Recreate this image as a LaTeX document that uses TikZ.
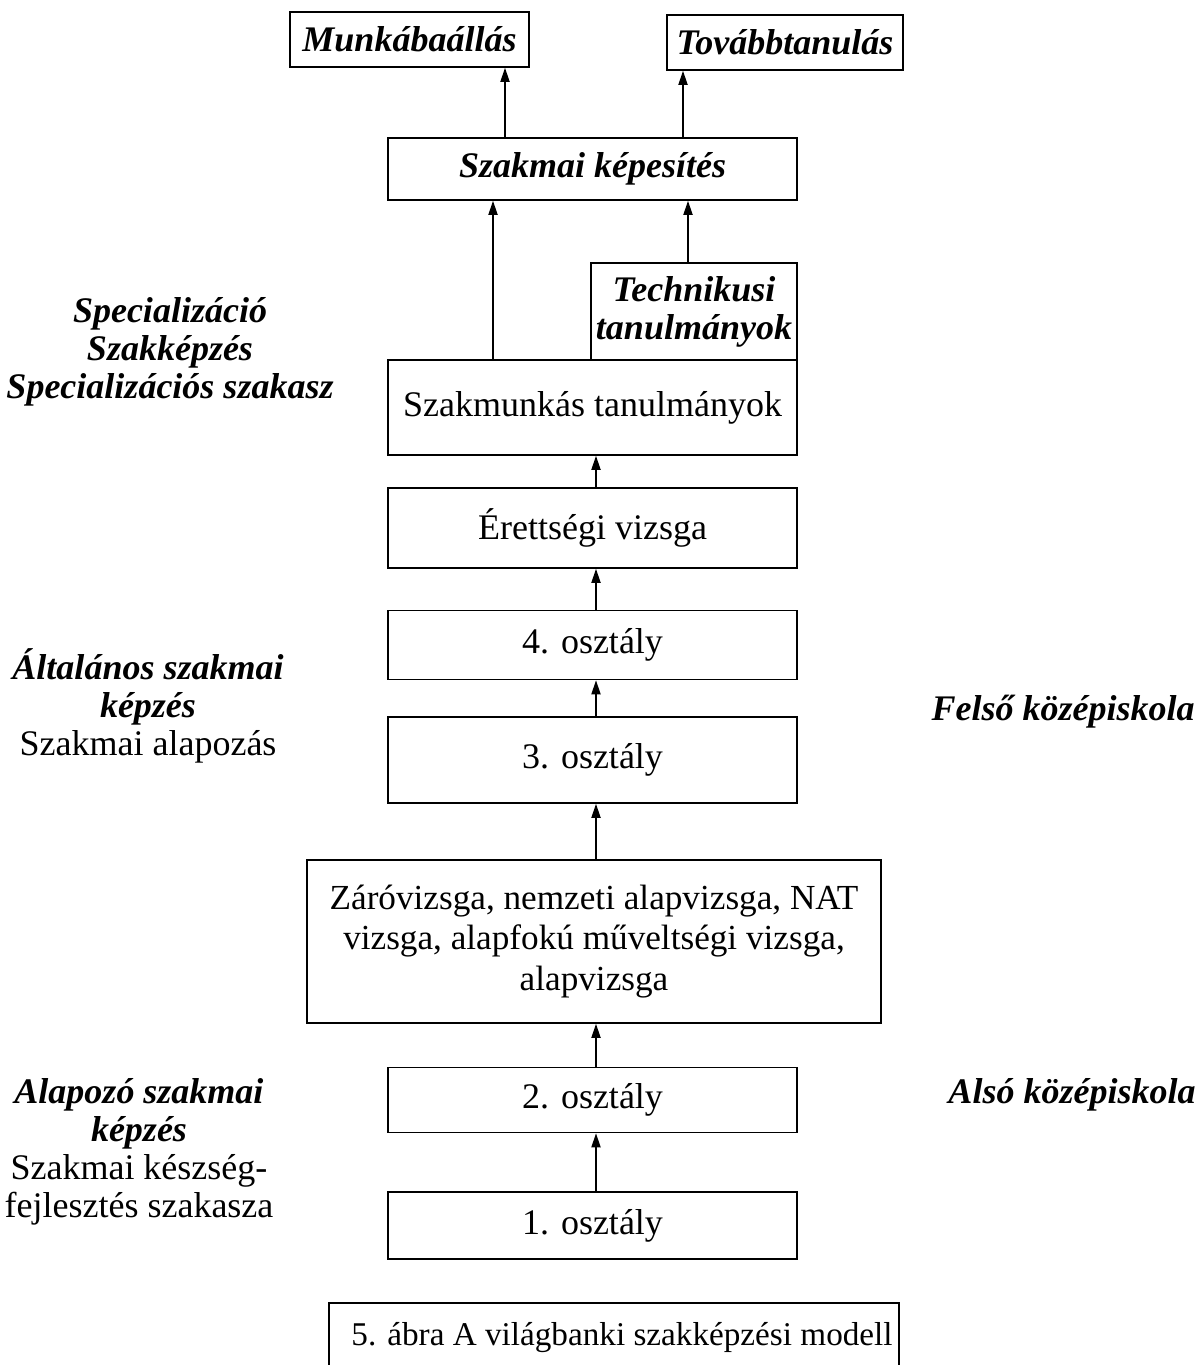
\documentclass[tikz,border=0pt]{standalone}
\usepackage{fontspec}
\setmainfont{Liberation Serif}
\usetikzlibrary{arrows.meta}
\begin{document}
\begin{tikzpicture}[x=0.5pt,y=-0.5pt,
  box/.style={draw,line width=0.8pt,inner sep=0pt,align=center,
    font=\fontsize{18}{20}\selectfont},
  hbox/.style={box,font=\fontsize{18}{19}\selectfont\bfseries\itshape},
  arr/.style={line width=0.9pt,-{Triangle[length=7pt,width=4.5pt]}},
  side/.style={align=center,font=\fontsize{18}{19}\selectfont},
  sidebf/.style={side,font=\fontsize{18}{19}\selectfont\bfseries\itshape}]
\useasboundingbox (0,0) rectangle (1201,1365);

% outcomes
\node[hbox,minimum width=119.5pt,minimum height=27.5pt] (munka) at (409.5,39.5) {Munkábaállás};
\node[hbox,minimum width=118pt,minimum height=27.5pt] (tovabb) at (785,42.5) {Továbbtanulás};
\node[hbox,minimum width=204.5pt,minimum height=31pt] (kepesites) at (592.5,169) {Szakmai képesítés};

% upper secondary stages
\node[hbox,minimum width=103pt,minimum height=48.5pt] (techn) at (694,311.5) {Technikusi\\tanulmányok};
\node[box,minimum width=204.5pt,minimum height=47.5pt] (szakm) at (592.5,407.5) {Szakmunkás tanulmányok};
\node[box,minimum width=204.5pt,minimum height=40pt] (erett) at (592.5,528) {Érettségi vizsga};
\node[box,minimum width=204.5pt,minimum height=34.5pt] (o4) at (592.5,645) {4. osztály};
\node[box,minimum width=204.5pt,minimum height=43pt] (o3) at (592.5,760) {3. osztály};
\node[box,minimum width=287pt,minimum height=81.5pt,font=\fontsize{17.6}{20.2}\selectfont] (zaro) at (594,941.5) {Záróvizsga, nemzeti alapvizsga, NAT\\vizsga, alapfokú műveltségi vizsga,\\alapvizsga};

% lower secondary stages
\node[box,minimum width=204.5pt,minimum height=32.5pt] (o2) at (592.5,1100) {2. osztály};
\node[box,minimum width=204.5pt,minimum height=33.5pt] (o1) at (592.5,1225.5) {1. osztály};

% arrow columns
\coordinate (xa) at (505,0);
\coordinate (xb) at (683,0);
\coordinate (xc) at (493,0);
\coordinate (xd) at (688,0);
\coordinate (xe) at (596,0);

\draw[arr] (kepesites.north -| xa) -- (munka.south -| xa);
\draw[arr] (kepesites.north -| xb) -- (tovabb.south -| xb);
\draw[arr] (szakm.north -| xc) -- (kepesites.south -| xc);
\draw[arr] (techn.north -| xd) -- (kepesites.south -| xd);
\draw[arr] (erett.north -| xe) -- (szakm.south -| xe);
\draw[arr] (o4.north -| xe) -- (erett.south -| xe);
\draw[arr] (o3.north -| xe) -- (o4.south -| xe);
\draw[arr] (zaro.north -| xe) -- (o3.south -| xe);
\draw[arr] (o2.north -| xe) -- (zaro.south -| xe);
\draw[arr] (o1.north -| xe) -- (o2.south -| xe);

% stage labels
\node[sidebf] (spec) at (170,352) {Specializáció\\Szakképzés\\Specializációs szakasz};
\node[side] (alt) at (148,706) {\bfseries\itshape Általános szakmai\\\bfseries\itshape képzés\\Szakmai alapozás};
\node[side] (alap) at (139,1152) {\bfseries\itshape Alapozó szakmai\\\bfseries\itshape képzés\\Szakmai készség-\\fejlesztés szakasza};
\node[sidebf] (felso) at (1063,712) {Felső középiskola};
\node[sidebf] (also) at (1072,1095) {Alsó középiskola};

% caption frame, open at the lower edge
\coordinate (capl) at (329,1365);
\coordinate (capr) at (899,1365);
\draw[line width=0.8pt] (capl) -- (329,1303) -- (899,1303) -- (capr);
\node[side,font=\fontsize{16.6}{19}\selectfont] (caption) at (622,1338) {5. ábra A világbanki szakképzési modell};
\end{tikzpicture}
\end{document}
